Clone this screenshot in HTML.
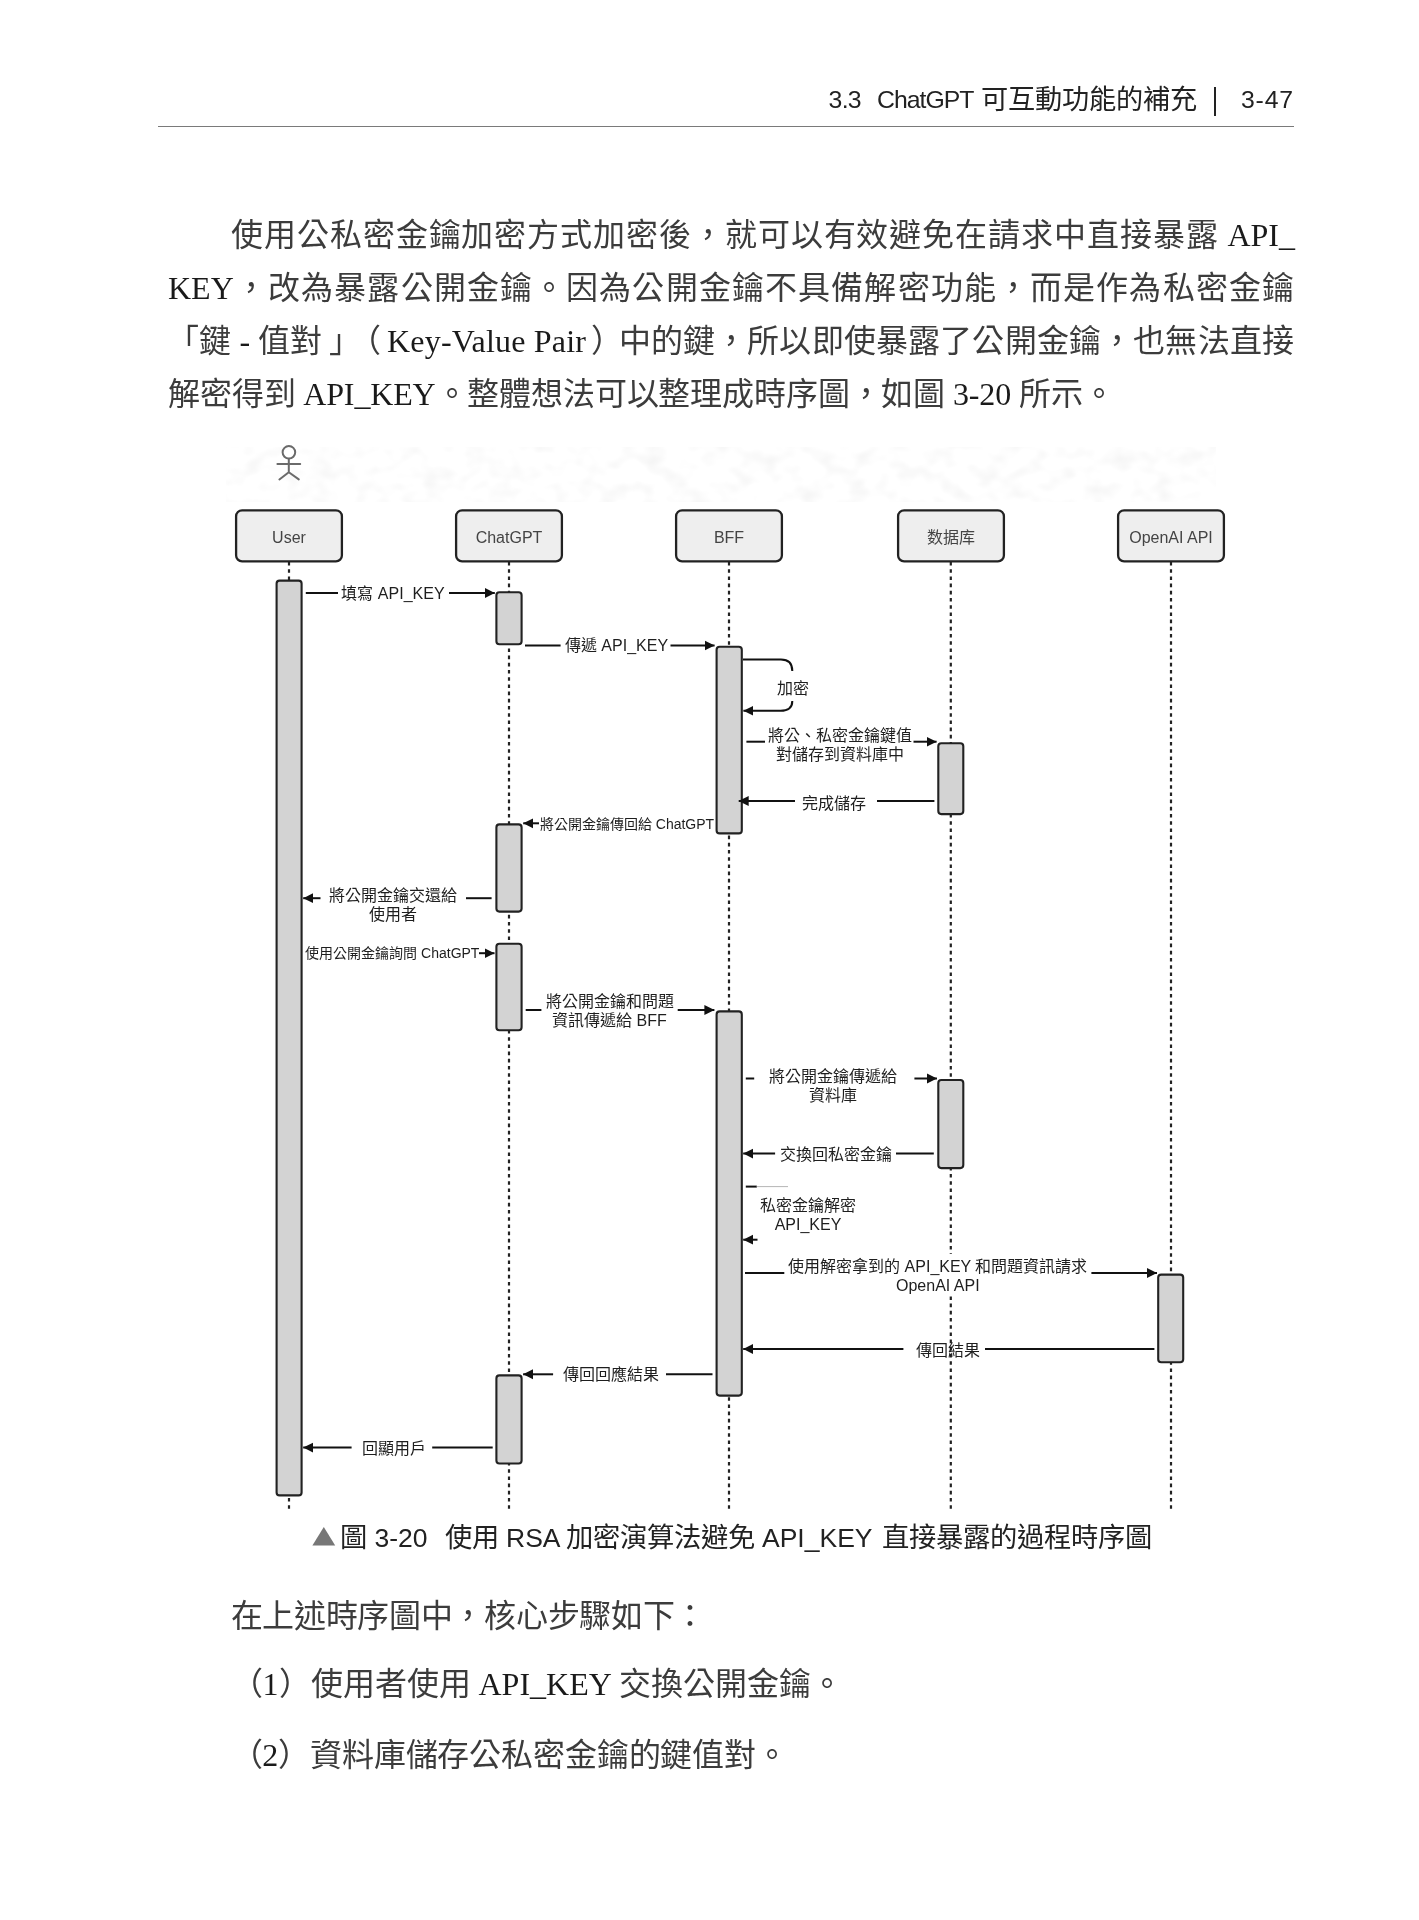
<!DOCTYPE html>
<html lang="zh-TW">
<head>
<meta charset="utf-8">
<title>3.3 ChatGPT 可互動功能的補充 3-47</title>
<style>
html,body{margin:0;padding:0;background:#fff;}
body{filter:grayscale(1);}
body{width:1419px;height:1920px;position:relative;overflow:hidden;color:#1a1a1a;
  font-family:"Liberation Serif",serif;}
.abs{position:absolute;white-space:nowrap;}
/* header */
#hdr{position:absolute;left:0;top:84px;width:1419px;height:32px;line-height:32px;font-family:"Liberation Sans",sans-serif;
  font-size:27.2px;color:#222;}
#hdr .l{font-size:24.8px;}
#rule{left:158px;top:126px;width:1136px;height:0;border-top:1.6px solid #7a7a7a;}
/* body text */
.ln{left:168px;width:1125px;font-size:32px;line-height:44px;height:44px;color:#3c3c3c;
  text-align:justify;text-align-last:justify;}
.ln .l{font-size:32px;color:#1a1a1a;}
.nj{text-align:left;text-align-last:left;width:auto;}
/* diagram */
#dg{position:absolute;left:0;top:0;}
.bx{font-family:"Liberation Sans",sans-serif;font-size:16px;color:#444;text-align:center;
  width:108px;height:53px;line-height:55px;top:509.5px;}
.lb{font-family:"Liberation Sans",sans-serif;font-size:16px;line-height:19px;color:#1e1e1e;
  text-align:center;transform:translateX(-50%);}
.bg{background:#fff;padding:2.5px 0 0.5px;}
.s14{font-size:14px;}
#cap{position:absolute;left:0;width:1419px;height:34px;top:1521px;font-family:"Liberation Sans",sans-serif;font-size:27.3px;line-height:34px;color:#222;}
#cap .l{font-size:26.5px;}
</style>
</head>
<body>

<!-- running header -->
<div id="hdr">
<span class="abs l" style="left:828.6px;letter-spacing:-0.7px;">3.3</span>
<span class="abs l" style="left:877px;letter-spacing:-1px;">ChatGPT</span>
<span class="abs" style="left:980.5px;">可互動功能的補充</span>
<span class="abs" style="left:1214px;top:3px;width:2.4px;height:29px;background:#222;"></span>
<span class="abs l" style="left:1241px;letter-spacing:0.8px;">3-47</span>
</div>
<div id="rule" class="abs"></div>

<!-- paragraph 1 -->
<div class="abs ln" style="top:212.5px;left:231px;width:1064px;">使用公私密金鑰加密方式加密後，就可以有效避免在請求中直接暴露 <span class="l">API_</span></div>
<div class="abs ln" style="top:265.7px;width:1126px;"><span class="l">KEY</span>，改為暴露公開金鑰。因為公開金鑰不具備解密功能，而是作為私密金鑰</div>
<div class="abs ln" style="top:318.9px;left:0;width:1419px;">
<span class="abs" id="s1" style="left:167px;">「鍵</span><span class="abs" id="s2" style="left:239.5px;color:#1a1a1a;"> - </span><span class="abs" id="s3" style="left:257.5px;">值對</span><span class="abs" id="s4" style="left:328.5px;">」</span><span class="abs" id="s5" style="left:348.5px;">（</span><span class="abs" id="s6" style="left:387px;letter-spacing:0.2px;color:#1a1a1a;">Key-Value Pair</span><span class="abs" id="s7" style="left:591px;">）</span><span class="abs" id="s8" style="left:618.5px;width:675.5px;text-align:justify;text-align-last:justify;">中的鍵，所以即使暴露了公開金鑰，也無法直接</span>
</div>
<div class="abs ln nj" style="top:372.1px;letter-spacing:-0.15px;">解密得到 <span class="l">API_KEY</span>。整體想法可以整理成時序圖，如圖 <span class="l">3-20</span> 所示。</div>

<!--DIAGRAM-START-->
<!-- sequence diagram: shapes -->
<svg id="dg" width="1419" height="1920" viewBox="0 0 1419 1920">
  <defs>
    <filter id="tx" x="0" y="0" width="100%" height="100%">
      <feTurbulence type="fractalNoise" baseFrequency="0.045 0.06" numOctaves="2" seed="7" result="n"/>
      <feColorMatrix in="n" type="matrix" values="0 0 0 0 0  0 0 0 0 0  0 0 0 0 0  0.10 0 0 0 -0.047" result="a"/>
      <feComposite in="a" in2="SourceGraphic" operator="in"/>
    </filter>
    <marker id="ah" viewBox="0 0 10 10" refX="10" refY="5" markerWidth="10" markerHeight="11.3" markerUnits="userSpaceOnUse" orient="auto">
      <path d="M0,0 L10,5 L0,10 Z" fill="#111"/>
    </marker>
  </defs>
  <!-- faint scan texture -->
  <rect x="226" y="447" width="990" height="55" fill="#000" filter="url(#tx)"/>
  <!-- actor -->
  <g fill="none" stroke="#6a6a6a" stroke-width="2" stroke-linecap="round">
    <circle cx="288.9" cy="452.3" r="6.3"/>
    <path d="M288.8,459 V472.2 M277.4,464 H300.2 M288.8,472.2 L279.4,479.5 M288.8,472.2 L298.8,479.4"/>
  </g>
  <!-- lifelines -->
  <g stroke="#222" stroke-width="2.2" stroke-dasharray="3.6 3.6" fill="none">
    <path d="M289,562 V1510"/>
    <path d="M509,562 V1510"/>
    <path d="M729,562 V1510"/>
    <path d="M950.8,562 V1510"/>
    <path d="M1171,562 V1510"/>
  </g>
  <!-- participant boxes -->
  <g fill="#eeeeee" stroke="#222" stroke-width="2.3">
    <rect x="236.1" y="510.3" width="105.8" height="51.1" rx="6"/>
    <rect x="456.1" y="510.3" width="105.8" height="51.1" rx="6"/>
    <rect x="676.1" y="510.3" width="105.8" height="51.1" rx="6"/>
    <rect x="898.1" y="510.3" width="105.8" height="51.1" rx="6"/>
    <rect x="1118.1" y="510.3" width="105.8" height="51.1" rx="6"/>
  </g>
  <!-- activation bars -->
  <g fill="#d3d3d3" stroke="#222" stroke-width="2.1">
    <rect x="276.6" y="580.6" width="25" height="914.8" rx="3"/>
    <rect x="496.4" y="592.3" width="25.2" height="52" rx="3"/>
    <rect x="496.4" y="824.4" width="25.2" height="87.2" rx="3"/>
    <rect x="496.4" y="943.7" width="25.2" height="86.6" rx="3"/>
    <rect x="496.4" y="1375.4" width="25.2" height="88.1" rx="3"/>
    <rect x="716.6" y="646.7" width="25.2" height="186.7" rx="3"/>
    <rect x="716.6" y="1011.4" width="25.2" height="384.2" rx="3"/>
    <rect x="938.3" y="743.2" width="25" height="70.9" rx="3"/>
    <rect x="938.3" y="1080.0" width="25" height="88.1" rx="3"/>
    <rect x="1158.2" y="1274.6" width="25" height="87.7" rx="3"/>
  </g>
  <!-- messages -->
  <g stroke="#111" stroke-width="2" fill="none">
    <!-- 1 fill in API_KEY -->
    <path d="M305.8,593 H338"/>
    <path d="M449,593 H494.8" marker-end="url(#ah)"/>
    <!-- 2 pass API_KEY -->
    <path d="M525,645.5 H560.6"/>
    <path d="M670.5,645.5 H714.6" marker-end="url(#ah)"/>
    <!-- 3 self: encrypt -->
    <path d="M743,659.6 H780.9 Q792.3,659.6 792.3,671"/>
    <path d="M792.3,701 Q792.3,710.8 780.5,710.8 H743.4" marker-end="url(#ah)"/>
    <!-- 4 store key pair -->
    <path d="M746.4,741.7 H765"/>
    <path d="M913.5,741.7 H936.6" marker-end="url(#ah)"/>
    <!-- 5 store done -->
    <path d="M934.4,801 H877"/>
    <path d="M795,801 H738.7" marker-end="url(#ah)"/>
    <!-- 6 public key back to ChatGPT -->
    <path d="M539,823.3 H523.2" marker-end="url(#ah)"/>
    <!-- 7 hand public key to user -->
    <path d="M491.6,898.2 H466"/>
    <path d="M320.5,898.2 H303.2" marker-end="url(#ah)"/>
    <!-- 8 ask ChatGPT with public key -->
    <path d="M479,953.2 H494.5" marker-end="url(#ah)"/>
    <!-- 9 pass to BFF -->
    <path d="M525.7,1010 H541.4"/>
    <path d="M677.7,1010 H714.4" marker-end="url(#ah)"/>
    <!-- 10 pass public key to DB -->
    <path d="M745.8,1078.5 H754.2"/>
    <path d="M914.4,1078.5 H937" marker-end="url(#ah)"/>
    <!-- 11 private key back -->
    <path d="M933.8,1153.6 H896"/>
    <path d="M775.1,1153.6 H743.2" marker-end="url(#ah)"/>
    <!-- 12 self: decrypt -->
    <path d="M745.8,1186.6 H756.8"/>
    <path d="M756.8,1186.6 H788" stroke="#b5b5b5" stroke-width="1"/>
    <path d="M757.5,1239.7 H743.2" marker-end="url(#ah)"/>
    <!-- 13 request OpenAI -->
    <path d="M745,1273 H784.3"/>
    <path d="M1091.4,1273 H1157" marker-end="url(#ah)"/>
    <!-- 14 result back -->
    <path d="M1154.4,1349 H985"/>
    <path d="M903.4,1349 H743.2" marker-end="url(#ah)"/>
    <!-- 15 response to ChatGPT -->
    <path d="M712.5,1374.3 H666"/>
    <path d="M553.1,1374.3 H523.1" marker-end="url(#ah)"/>
    <!-- 16 show user -->
    <path d="M492.7,1447.6 H432.2"/>
    <path d="M351.6,1447.6 H303.2" marker-end="url(#ah)"/>
  </g>
  <!-- caption triangle -->
  <path d="M312.4,1545.5 L323.8,1527 L335.2,1545.5 Z" fill="#777"/>
</svg>

<!-- participant labels -->
<div class="abs bx" style="left:235px;">User</div>
<div class="abs bx" style="left:455px;">ChatGPT</div>
<div class="abs bx" style="left:675px;">BFF</div>
<div class="abs bx" style="left:897px;">数据库</div>
<div class="abs bx" style="left:1117px;">OpenAI API</div>

<!-- message labels -->
<div class="abs lb" style="left:393px;top:583.5px;">填寫 API_KEY</div>
<div class="abs lb" style="left:616.5px;top:636px;">傳遞 API_KEY</div>
<div class="abs lb" style="left:792.5px;top:678.5px;">加密</div>
<div class="abs lb" style="left:840.4px;top:725.5px;">將公、私密金鑰鍵值<br>對儲存到資料庫中</div>
<div class="abs lb" style="left:834px;top:794px;">完成儲存</div>
<div class="abs lb s14" style="left:627px;top:814.5px;">將公開金鑰傳回給 ChatGPT</div>
<div class="abs lb" style="left:393px;top:886px;">將公開金鑰交還給<br>使用者</div>
<div class="abs lb s14" style="left:392.3px;top:944px;">使用公開金鑰詢問 ChatGPT</div>
<div class="abs lb" style="left:609.5px;top:992.3px;">將公開金鑰和問題<br>資訊傳遞給 BFF</div>
<div class="abs lb" style="left:833.4px;top:1067px;">將公開金鑰傳遞給<br>資料庫</div>
<div class="abs lb" style="left:836.2px;top:1144.5px;">交換回私密金鑰</div>
<div class="abs lb" style="left:808px;top:1196px;">私密金鑰解密<br>API_KEY</div>
<div class="abs lb bg" style="left:937.8px;top:1254.2px;">使用解密拿到的 API_KEY 和問題資訊請求<br>OpenAI API</div>
<div class="abs lb" style="left:948.2px;top:1341.3px;">傳回結果</div>
<div class="abs lb" style="left:610.5px;top:1365.3px;">傳回回應結果</div>
<div class="abs lb" style="left:393.5px;top:1438.6px;">回顯用戶</div>

<!-- figure caption -->
<div id="cap">
<span class="abs" style="left:339.5px;">圖</span>
<span class="abs l" style="left:374.4px;">3-20</span>
<span class="abs" style="left:444.5px;">使用</span>
<span class="abs l" style="left:506px;">RSA</span>
<span class="abs" style="left:565.5px;">加密演算法避免</span>
<span class="abs l" style="left:762px;">API_KEY</span>
<span class="abs" style="left:882px;">直接暴露的過程時序圖</span>
</div>
<!--DIAGRAM-END-->

<!-- bottom text -->
<div class="abs ln nj" style="top:1593.5px;left:230.5px;letter-spacing:-0.3px;">在上述時序圖中，核心步驟如下：</div>
<div class="abs ln nj" style="top:1662px;left:230.5px;">（<span class="l">1</span>）使用者使用 <span class="l">API_KEY</span> 交換公開金鑰。</div>
<div class="abs ln nj" style="top:1732.5px;left:230.5px;letter-spacing:-0.15px;">（<span class="l">2</span>）資料庫儲存公私密金鑰的鍵值對。</div>

</body>
</html>
